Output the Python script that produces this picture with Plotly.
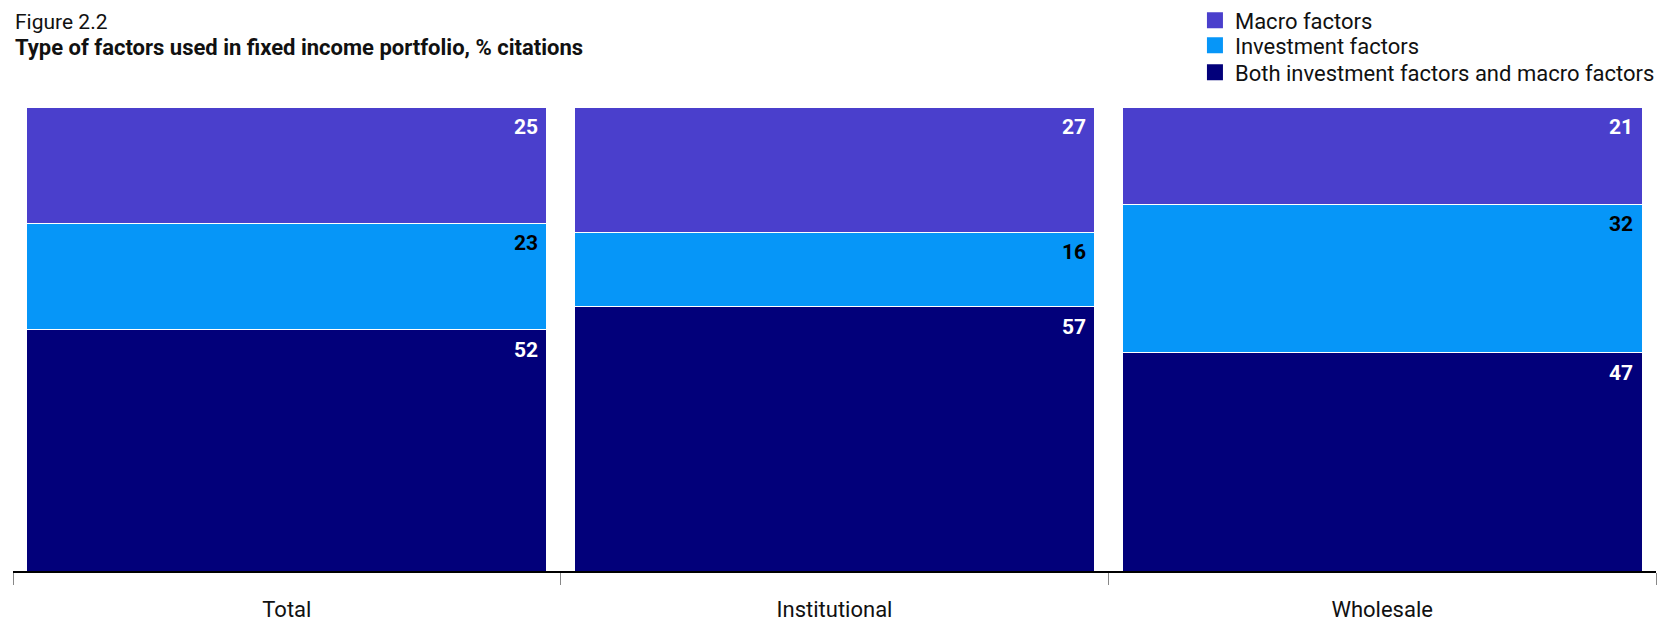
import plotly.graph_objects as go

categories = ["Total", "Institutional", "Wholesale"]
both = [52, 57, 47]
investment = [23, 16, 32]
macro = [25, 27, 21]

series = [
    ("Both investment factors and macro factors", both, "#02007A", "white"),
    ("Investment factors", investment, "#0696F8", "black"),
    ("Macro factors", macro, "#4A3FCC", "white"),
]
legend_ids = ["legend3", "legend2", "legend"]
legend_rows = [0.8960, 0.9395, 0.9800]

FONT = "Roboto"
fig = go.Figure()
for name, vals, color, _ in series:
    fig.add_trace(go.Bar(
        x=categories, y=vals, name=name, showlegend=False,
        marker=dict(color=color, line=dict(color="white", width=1)),
        hoverinfo="skip",
    ))
# legend entries with larger square swatches
for (name, vals, color, _), lid in zip(series, legend_ids):
    fig.add_trace(go.Scatter(
        x=[None], y=[None], mode="markers", name=name, legend=lid,
        marker=dict(symbol="square", size=16, color=color),
        hoverinfo="skip",
    ))

# value labels at top-right of each segment
annotations = []
cum = [0] * len(categories)
for name, vals, color, tcolor in series:
    for i, v in enumerate(vals):
        cum[i] += v
        annotations.append(dict(
            x=i + 0.475, y=cum[i], xref="x", yref="y",
            text=f"<b>{v}</b>", showarrow=False,
            xanchor="right", yanchor="top", xshift=-7, yshift=-6,
            font=dict(family=FONT, size=21, color=tcolor),
        ))

annotations.append(dict(
    x=0, y=1.184, xref="paper", yref="paper", text="Figure 2.2",
    showarrow=False, xanchor="left", yanchor="middle",
    font=dict(family=FONT, size=21, color="#111111"),
))
annotations.append(dict(
    x=0, y=1.129, xref="paper", yref="paper",
    text="<b>Type of factors used in fixed income portfolio, % citations</b>",
    showarrow=False, xanchor="left", yanchor="middle",
    font=dict(family=FONT, size=22, color="#111111"),
))

def legend_style(yv):
    return dict(
        xref="container", yref="container",
        x=0.7116, xanchor="left", y=yv, yanchor="middle",
        font=dict(family=FONT, size=22, color="#111111"),
        bgcolor="rgba(0,0,0,0)", itemwidth=30,
    )

fig.update_layout(
    barmode="stack",
    bargap=0.05,
    width=1668, height=619,
    margin=dict(l=5, r=20, t=99, b=56, autoexpand=False),
    plot_bgcolor="white", paper_bgcolor="white",
    showlegend=True,
    legend=legend_style(legend_rows[2]),
    legend2=legend_style(legend_rows[1]),
    legend3=legend_style(legend_rows[0]),
    annotations=annotations,
    xaxis=dict(
        type="category", range=[-0.5, 2.5],
        showline=True, linecolor="black", linewidth=1.5,
        ticks="outside", tickson="boundaries", ticklen=12, tickcolor="#888888",
        ticklabelstandoff=18,
        tickfont=dict(family=FONT, size=22, color="#111111"),
        showgrid=False, fixedrange=True,
    ),
    yaxis=dict(range=[0, 100], visible=False, showgrid=False, fixedrange=True),
    font=dict(family=FONT),
)

fig.write_html("out.html")
